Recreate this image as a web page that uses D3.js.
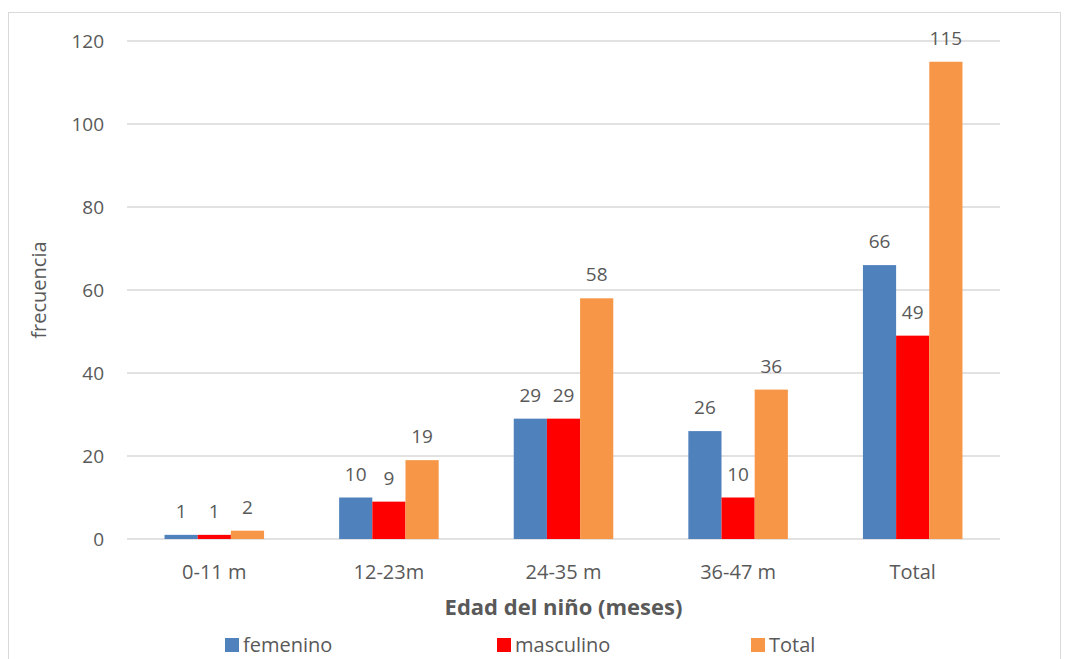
<!DOCTYPE html>
<html>
<head>
<meta charset="utf-8">
<script src="https://cdn.jsdelivr.net/npm/d3@7"></script>
<style>
  body { margin: 0; background: #fff; }
  text { font-family: "Open Sans", sans-serif; fill: #595959; }
</style>
</head>
<body>
<div id="chart"></div>
<script>
// data
var categories = ["0-11 m", "12-23m", "24-35 m", "36-47 m", "Total"];
var seriesNames = ["femenino", "masculino", "Total"];
var femenino = [1, 10, 29, 26, 66];
var masculino = [1, 9, 29, 10, 49];
var total = [2, 19, 58, 36, 115];
var yTicks = [0, 20, 40, 60, 80, 100, 120];
var colors = ["#4F81BD", "#FF0000", "#F79646"];

var W = 1068, H = 659;
var margin = {top: 41, right: 68, bottom: 120, left: 127},
    width = W - margin.left - margin.right,
    height = 539 - margin.top;

var svg = d3.select("#chart").append("svg")
    .attr("width", W)
    .attr("height", H);

// outer frame
svg.append("rect")
    .attr("x", 8.5).attr("y", 12.5)
    .attr("width", 1052).attr("height", 660)
    .attr("fill", "none").attr("stroke", "#d9d9d9");

var g = svg.append("g")
    .attr("transform", "translate(" + margin.left + "," + margin.top + ")");

var x0 = d3.scaleBand().domain(categories).range([0, width]).paddingInner(0.43).paddingOuter(0.215);
var x1 = d3.scaleBand().domain(seriesNames).range([0, x0.bandwidth()]);
var y = d3.scaleLinear().domain([0, 120]).range([height, 0]);

// gridlines
g.selectAll(".grid").data(yTicks).enter().append("line")
    .attr("x1", 0).attr("x2", width)
    .attr("y1", d => y(d)).attr("y2", d => y(d))
    .attr("stroke", "#d9d9d9").attr("stroke-width", 1.3);

// y tick labels
g.selectAll(".ytick").data(yTicks).enter().append("text")
    .attr("x", -23).attr("y", d => y(d))
    .attr("dy", "0.35em")
    .attr("text-anchor", "end")
    .style("font-size", "19px")
    .text(d => d);

// x tick labels
g.selectAll(".xtick").data(categories).enter().append("text")
    .attr("x", d => x0(d) + x0.bandwidth() / 2)
    .attr("y", height + 40)
    .attr("text-anchor", "middle")
    .style("font-size", "20px")
    .text(d => d);

var rows = categories.map((c, i) => ({cat: c, vals: [femenino[i], masculino[i], total[i]]}));

var groups = g.selectAll(".grp").data(rows).enter().append("g")
    .attr("transform", d => "translate(" + x0(d.cat) + ",0)");

groups.selectAll("rect").data(d => d.vals.map((v, j) => ({s: seriesNames[j], v: v, j: j})))
    .enter().append("rect")
    .attr("x", d => x1(d.s))
    .attr("y", d => y(d.v))
    .attr("width", x1.bandwidth())
    .attr("height", d => height - y(d.v))
    .attr("fill", d => colors[d.j]);

groups.selectAll(".lbl").data(d => d.vals.map((v, j) => ({s: seriesNames[j], v: v, j: j})))
    .enter().append("text")
    .attr("x", d => x1(d.s) + x1.bandwidth() / 2)
    .attr("y", d => y(d.v) - 17)
    .attr("text-anchor", "middle")
    .style("font-size", "19px")
    .text(d => d.v);

// axis titles
svg.append("text")
    .attr("x", margin.left + width / 2).attr("y", 615)
    .attr("text-anchor", "middle")
    .style("font-size", "22px").style("font-weight", "bold")
    .text("Edad del niño (meses)");

svg.append("text")
    .attr("transform", "translate(46," + (margin.top + height / 2) + ") rotate(-90)")
    .attr("text-anchor", "middle")
    .style("font-size", "20px")
    .text("frecuencia");

// legend
var legendX = [225, 497, 751];
var leg = svg.selectAll(".leg").data(seriesNames).enter().append("g")
    .attr("transform", (d, i) => "translate(" + legendX[i] + ",638)");
leg.append("rect").attr("width", 14).attr("height", 14).attr("fill", (d, i) => colors[i]);
leg.append("text").attr("x", 18).attr("y", 7).attr("dy", "0.35em")
    .style("font-size", "20px").text(d => d);
</script>
</body>
</html>
